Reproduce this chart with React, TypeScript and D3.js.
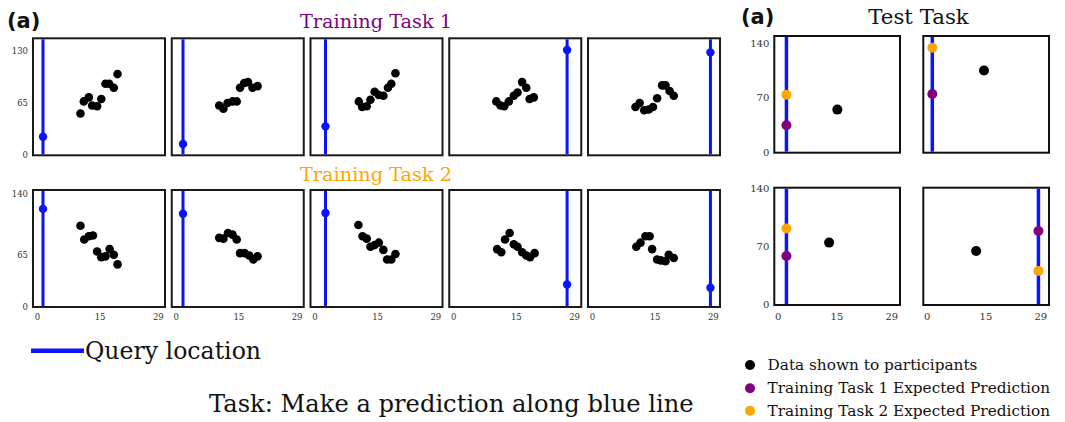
import { useEffect, useRef } from 'react';
import * as d3 from 'd3';

// Training tasks: ten shown points per panel + query (x, expected y)
const task1X = [
  [10.3, 11.1, 12.3, 13.1, 14.3, 15.3, 16.3, 17.2, 18.3, 19.2],
  [10.3, 11.3, 12.3, 13.5, 14.5, 15.3, 16.3, 17.2, 18.3, 19.5],
  [10.5, 11.3, 12.4, 13.3, 14.3, 15.3, 16.4, 17.5, 18.3, 19.3],
  [10.2, 11.2, 12.1, 13.2, 14.4, 15.3, 16.4, 17.4, 18.2, 19.2],
  [10.3, 11.3, 12.4, 13.5, 14.5, 15.5, 16.7, 17.5, 18.5, 19.5],
];
const task1Y = [
  [52, 67, 72, 62, 61, 70, 89, 89, 84, 101],
  [62, 58, 65, 67, 67, 84, 90, 91, 84, 86],
  [67, 60, 61, 69, 79, 75, 74, 84, 89, 102],
  [67, 62, 61, 67, 74, 78, 91, 84, 70, 72],
  [60, 65, 56, 57, 60, 71, 87, 87, 80, 74],
];
const task1Query = [[1.3, 23], [1.6, 14], [2.5, 36], [27.2, 131], [28.3, 128]];

const task2X = [
  [10.3, 11.2, 12.3, 13.3, 14.3, 15.3, 16.3, 17.3, 18.3, 19.2],
  [10.3, 11.3, 12.4, 13.5, 14.5, 15.3, 16.4, 17.5, 18.5, 19.5],
  [10.4, 11.4, 12.4, 13.3, 14.3, 15.3, 16.4, 17.3, 18.3, 19.3],
  [10.4, 11.4, 12.3, 13.4, 14.4, 15.3, 16.4, 17.4, 18.3, 19.4],
  [10.5, 11.5, 12.7, 13.7, 14.3, 15.5, 16.4, 17.5, 18.3, 19.5],
];
const task2Y = [
  [101, 84, 88, 89, 69, 62, 63, 72, 65, 53],
  [86, 85, 92, 90, 84, 67, 67, 64, 59, 63],
  [102, 88, 85, 75, 77, 80, 71, 59, 59, 66],
  [72, 68, 84, 92, 78, 75, 68, 64, 62, 67],
  [75, 80, 88, 88, 72, 59, 58, 57, 65, 61],
];
const task2Query = [[1.3, 122], [1.6, 116], [2.5, 117], [27.2, 28], [28.3, 24]];

// Test task panels (row-major)
const testShownX = [15.1, 14.5, 13.0, 12.5];
const testShownY = [55, 105, 75, 65];
const testQueryX = [2.1, 1.3, 2.1, 28.4];
const testPurpleY = [35, 75, 59, 89];
const testOrangeY = [74, 134, 92, 41];

const xTicks = [0, 15, 29];
const trainYTicks = [[0, 65, 130], [0, 65, 140]];
const testYTicks = [0, 70, 140];

const legendLabels = [
  'Data shown to participants',
  'Training Task 1 Expected Prediction',
  'Training Task 2 Expected Prediction',
];

const BLUE = '#0a14ff';
const PURPLE = '#800080';
const ORANGE = '#ffa500';
const SERIF = "'DejaVu Serif', serif";

export default function App() {
  const svgRef = useRef<SVGSVGElement>(null);

  useEffect(() => {
    if (!svgRef.current) return;
    const svg = d3.select(svgRef.current);
    svg.selectAll('*').remove();

    const pw = 132, ph = 117;
    const rowTops = [38.3, 190];
    const x = d3.scaleLinear().domain([-1.1, 30.6]).range([0, pw]);
    const y = d3.scaleLinear().domain([0, 145.5]).range([ph, 0]);

    const drawTrainRow = (row: number, xs: number[][], ys: number[][], q: number[][]) => {
      xs.forEach((px, i) => {
        const g = svg.append('g')
          .attr('transform', `translate(${33 + i * 138.75},${rowTops[row]})`);
        g.append('rect').attr('width', pw).attr('height', ph)
          .attr('fill', '#fff').attr('stroke', '#1a1a1a').attr('stroke-width', 2);
        g.append('line')
          .attr('x1', x(q[i][0])).attr('x2', x(q[i][0]))
          .attr('y1', 1).attr('y2', ph - 1)
          .attr('stroke', BLUE).attr('stroke-width', 3);
        g.append('circle').attr('cx', x(q[i][0])).attr('cy', y(q[i][1]))
          .attr('r', 4.2).attr('fill', BLUE);
        g.selectAll('.pt').data(px).enter().append('circle')
          .attr('cx', d => x(d)).attr('cy', (d, k) => y(ys[i][k]))
          .attr('r', 4.3).attr('fill', '#000');
        if (i === 0) {
          g.selectAll('.yt').data(trainYTicks[row]).enter().append('text')
            .attr('x', -5).attr('y', d => y(d) + 3)
            .attr('text-anchor', 'end')
            .style('font-family', SERIF).style('font-size', '8.5px').attr('fill', '#333')
            .text(d => d);
        }
        if (row === 1) {
          g.selectAll('.xt').data(xTicks).enter().append('text')
            .attr('x', d => x(d)).attr('y', ph + 13)
            .attr('text-anchor', 'middle')
            .style('font-family', SERIF).style('font-size', '8.5px').attr('fill', '#333')
            .text(d => d);
        }
      });
    };
    drawTrainRow(0, task1X, task1Y, task1Query);
    drawTrainRow(1, task2X, task2Y, task2Query);

    // Test task
    const tw = 125.7;
    const testTops = [36, 187.7];
    const testH = [116.7, 117.3];
    const testMax = [149, 141];
    const tx = d3.scaleLinear().domain([-1.0, 31.1]).range([0, tw]);
    testShownX.forEach((sx, i) => {
      const row = Math.floor(i / 2), col = i % 2;
      const ty = d3.scaleLinear().domain([0, testMax[row]]).range([testH[row], 0]);
      const g = svg.append('g')
        .attr('transform', `translate(${774.3 + col * 149},${testTops[row]})`);
      g.append('rect').attr('width', tw).attr('height', testH[row])
        .attr('fill', '#fff').attr('stroke', '#111').attr('stroke-width', 2);
      g.append('line')
        .attr('x1', tx(testQueryX[i])).attr('x2', tx(testQueryX[i]))
        .attr('y1', 1).attr('y2', testH[row] - 1)
        .attr('stroke', BLUE).attr('stroke-width', 3.5);
      g.append('circle').attr('cx', tx(testQueryX[i])).attr('cy', ty(testOrangeY[i]))
        .attr('r', 5).attr('fill', ORANGE);
      g.append('circle').attr('cx', tx(testQueryX[i])).attr('cy', ty(testPurpleY[i]))
        .attr('r', 5).attr('fill', PURPLE);
      g.append('circle').attr('cx', tx(sx)).attr('cy', ty(testShownY[i]))
        .attr('r', 5).attr('fill', '#000');
      if (col === 0) {
        g.selectAll('.yt').data(testYTicks).enter().append('text')
          .attr('x', -5).attr('y', d => ty(d) + 3.5)
          .attr('text-anchor', 'end')
          .style('font-family', SERIF).style('font-size', '10px').attr('fill', '#333')
          .text(d => d);
      }
      if (row === 1) {
        g.selectAll('.xt').data(xTicks).enter().append('text')
          .attr('x', d => tx(d)).attr('y', testH[row] + 15)
          .attr('text-anchor', 'middle')
          .style('font-family', SERIF).style('font-size', '10px').attr('fill', '#333')
          .text(d => d);
      }
    });

    // Titles
    const label = (t: string, lx: number, ly: number, size: number, color: string, anchor = 'start', family = SERIF, weight = 'normal') =>
      svg.append('text').attr('x', lx).attr('y', ly).attr('text-anchor', anchor)
        .style('font-family', family).style('font-size', `${size}px`).style('font-weight', weight)
        .attr('fill', color).text(t);

    label('(a)', 7, 28, 21, '#111', 'start', "'DejaVu Sans', sans-serif", 'bold');
    label('(a)', 741, 24, 21, '#111', 'start', "'DejaVu Sans', sans-serif", 'bold');
    label('Training Task 1', 376, 28, 19.3, PURPLE, 'middle');
    label('Training Task 2', 376, 180.5, 19.3, ORANGE, 'middle');
    label('Test Task', 918.5, 24, 21.3, '#111', 'middle');

    // Query legend
    svg.append('line').attr('x1', 31).attr('x2', 84).attr('y1', 350.7).attr('y2', 350.7)
      .attr('stroke', BLUE).attr('stroke-width', 4.5);
    label('Query location', 85, 358.5, 23.6, '#111');
    label('Task: Make a prediction along blue line', 209, 411.5, 24.2, '#111');

    // Dot legend
    const legColors = ['#000', PURPLE, ORANGE];
    const legY = [365, 388.3, 410.7];
    legendLabels.forEach((t, i) => {
      svg.append('circle').attr('cx', 750).attr('cy', legY[i]).attr('r', 5).attr('fill', legColors[i]);
      label(t, 767.5, legY[i] + 5, 15.3, '#111');
    });
  }, []);

  return (
    <div style={{ position: 'absolute', left: 0, top: 0, background: '#fff' }}>
      <svg ref={svgRef} width={1065} height={422} style={{ display: 'block' }} />
    </div>
  );
}
